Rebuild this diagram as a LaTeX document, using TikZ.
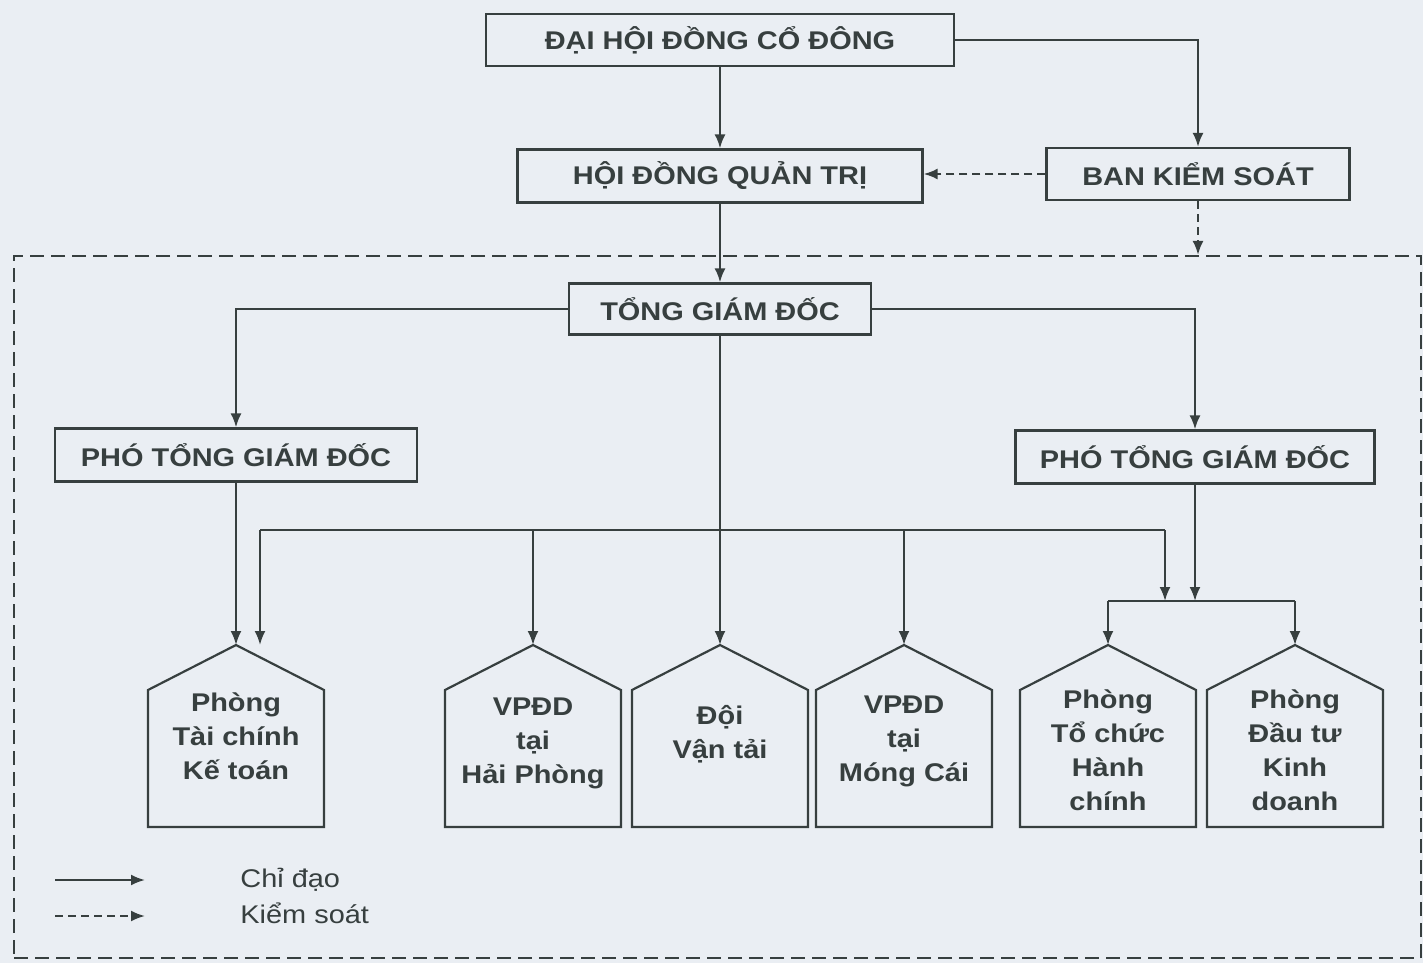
\documentclass[tikz,border=0pt]{standalone}
\usepackage{fontspec}
\setmainfont[FakeStretch=1.13]{Liberation Sans}
\usetikzlibrary{arrows.meta,positioning,calc}
\definecolor{ink}{RGB}{55,63,63}
\definecolor{paper}{RGB}{234,238,243}

\begin{document}
\begin{tikzpicture}[x=0.5pt,y=-0.5pt,
    every node/.style={text=ink,font=\fontsize{12.8}{17}\selectfont},
    >={Latex[length=7pt,width=5.5pt]},
    box/.style={draw=ink,line width=1.1pt,inner sep=0pt,font=\fontsize{12.8}{17}\selectfont\bfseries},
    house/.style={draw=ink,line width=1.1pt},
    htext/.style={anchor=north,align=center,inner sep=0pt,font=\fontsize{12.8}{17}\selectfont\bfseries},
    lin/.style={draw=ink,line width=1.1pt},
    chi/.style={lin,->},
    kiem/.style={lin,->,dash pattern=on 4pt off 2.5pt}]
  \fill[paper] (0,0) rectangle (1423,963);
  \useasboundingbox (0,0) rectangle (1423,963);

  % khung dieu hanh
  \node[lin,dash pattern=on 7pt off 3.5pt,minimum width=703.5pt,minimum height=351pt,inner sep=0pt] (dieuhanh) at (717.5,607) {};

  % cac cap quan ly
  \node[box,minimum width=234pt,minimum height=26pt] (dhd) at (720,40) {ĐẠI HỘI ĐỒNG CỔ ĐÔNG};
  \node[box,minimum width=202.5pt,minimum height=26.5pt] (hdqt) at (720,176) {HỘI ĐỒNG QUẢN TRỊ};
  \node[box,minimum width=151.5pt,minimum height=26pt] (bks) at (1198,174) {BAN KIỂM SOÁT};
  \node[box,minimum width=151pt,minimum height=25.5pt] (tgd) at (720,309) {TỔNG GIÁM ĐỐC};
  \node[box,minimum width=181pt,minimum height=26.5pt] (ptgd1) at (236,455) {PHÓ TỔNG GIÁM ĐỐC};
  \node[box,minimum width=179.5pt,minimum height=26.5pt] (ptgd2) at (1195,457) {PHÓ TỔNG GIÁM ĐỐC};

  % phong ban
  \foreach \n/\x/\y/\t in {tckt/236/692/{Phòng\\Tài chính\\Kế toán},
      vphp/533/697/{VPĐD\\tại\\Hải Phòng},
      doi/720/705/{Đội\\Vận tải},
      vpmc/904/695/{VPĐD\\tại\\Móng Cái},
      tchc/1108/689/{Phòng\\Tổ chức\\Hành\\chính},
      dtkd/1295/689/{Phòng\\Đầu tư\\Kinh\\doanh}}{
    \draw[house] (\x-88,690) -- (\x,645) -- (\x+88,690) -- (\x+88,827) -- (\x-88,827) -- cycle;
    \coordinate (\n) at (\x,645);
    \node[htext] (\n-t) at (\x,\y) {\t};
  }

  % duong noi
  \coordinate (busL) at (260,530);
  \coordinate (busR) at (1165,530);
  \coordinate (tckt2) at (260,645);
  \coordinate (nhanh) at (1150,601);
  \draw[chi] (dhd) -- (hdqt);
  \draw[chi] (dhd.east) -| (bks.north);
  \draw[kiem] (bks.west) -- (bks.west -| hdqt.east);
  \draw[kiem] (bks.south) -- (bks.south |- dieuhanh.north);
  \draw[chi] (hdqt) -- (tgd);
  \draw[chi] (tgd.west) -| (ptgd1.north);
  \draw[chi] (tgd.east) -| (ptgd2.north);
  \draw[chi] (tgd.south) -- (doi);
  \draw[chi] (ptgd1.south) -- (tckt);
  \draw[lin] (busL) -- (busR);
  \draw[chi] (busL) -- (tckt2);
  \draw[chi] (vphp |- busL) -- (vphp);
  \draw[chi] (vpmc |- busL) -- (vpmc);
  \draw[chi] (busR) -- (busR |- nhanh);
  \draw[chi] (ptgd2.south) -- (ptgd2.south |- nhanh);
  \draw[lin] (tchc |- nhanh) -- (dtkd |- nhanh);
  \draw[chi] (tchc |- nhanh) -- (tchc);
  \draw[chi] (dtkd |- nhanh) -- (dtkd);

  % chu thich
  \coordinate (l1a) at (55,880);
  \coordinate (l1b) at (145,880);
  \coordinate (l2a) at (55,916);
  \coordinate (l2b) at (145,916);
  \draw[chi] (l1a) -- (l1b);
  \draw[kiem] (l2a) -- (l2b);
  \node[anchor=west,inner sep=0pt] (lg1) at (240,880) {Chỉ đạo};
  \node[anchor=west,inner sep=0pt] (lg2) at (240,913) {Kiểm soát};
\end{tikzpicture}
\end{document}
